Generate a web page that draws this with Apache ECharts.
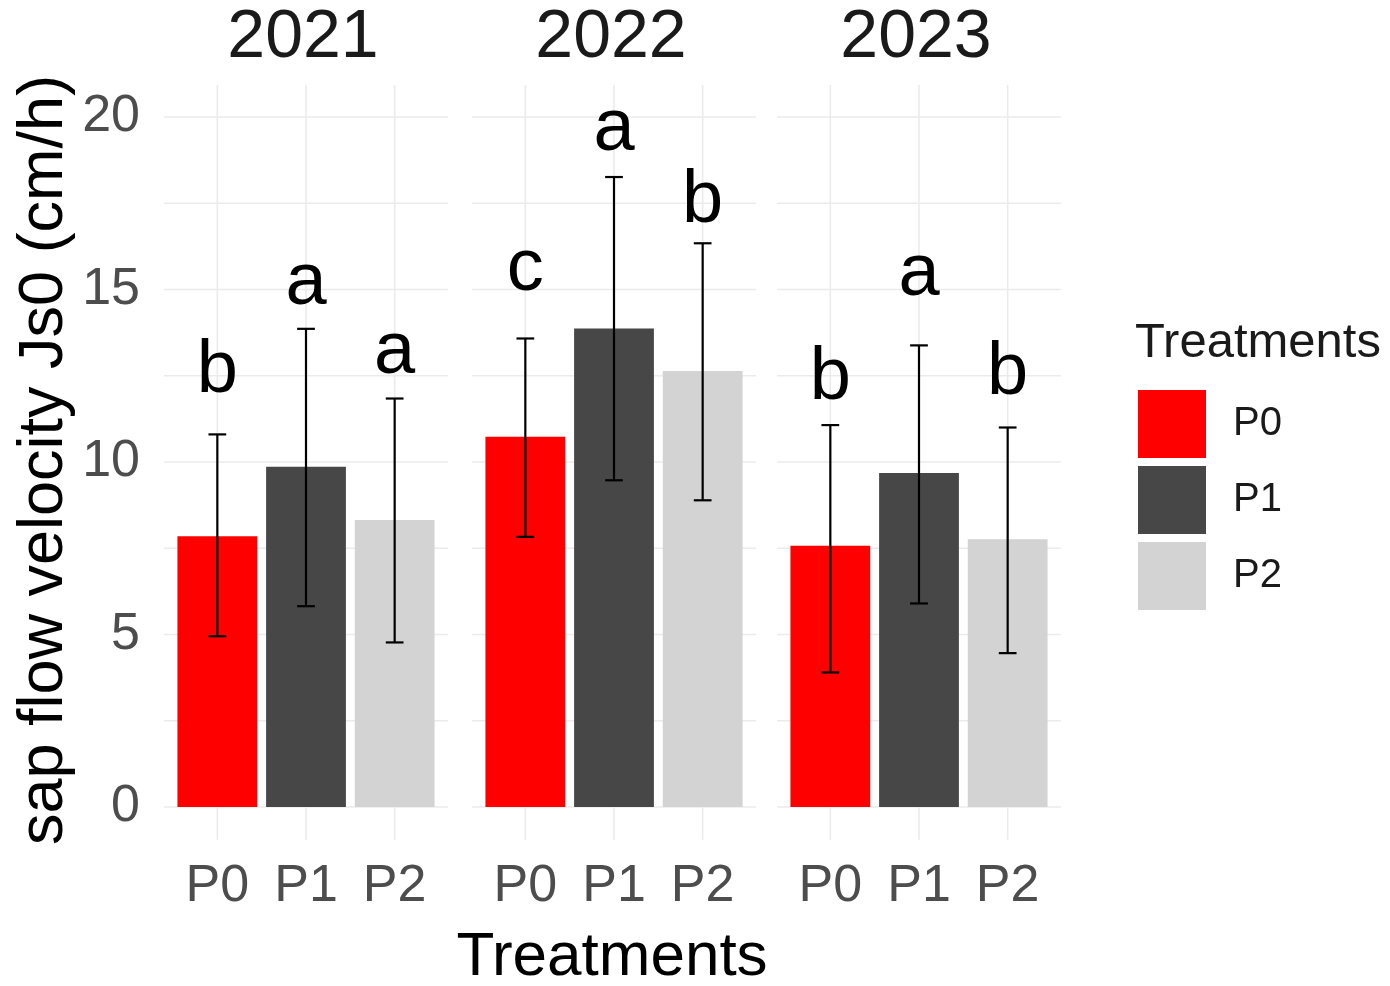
<!DOCTYPE html>
<html>
<head>
<meta charset="utf-8">
<script src="https://cdn.jsdelivr.net/npm/echarts@6/dist/echarts.min.js"></script>
<style>
  html, body { margin: 0; padding: 0; background: #fff; }
  #chart { width: 1390px; height: 986px; }
</style>
</head>
<body>
<div id="chart"></div>
<script>
// data
var years = ['2021', '2022', '2023'];
var treatments = ['P0', 'P1', 'P2'];
var means = [[7.85, 9.86, 8.32], [10.73, 13.87, 12.64], [7.57, 9.68, 7.76]];
var lower = [[4.95, 5.82, 4.77], [7.83, 9.47, 8.89], [3.90, 5.90, 4.46]];
var upper = [[10.80, 13.86, 11.84], [13.58, 18.26, 16.34], [11.07, 13.38, 11.00]];
var letters = [['b', 'a', 'a'], ['c', 'a', 'b'], ['b', 'a', 'b']];
var letterY = [[11.9, 14.45, 12.45], [14.87, 18.93, 16.83], [11.71, 14.73, 11.85]];
var yTicks = [0, 2.5, 5, 7.5, 10, 12.5, 15, 17.5, 20];

// layout / style
var colors = ['#FF0000', '#474747', '#D3D3D3'];
var FONT = "'Liberation Sans', Arial, sans-serif";
var gridLefts = [173, 481, 786];
var gridWidth = 266;
var gridTop = 117, gridBottom = 179;
var panelY = [-0.95, 20.93];
var gridColor = '#EBEBEB';

var chart = echarts.init(document.getElementById('chart'));

var grids = [], xAxes = [], yAxes = [], series = [], graphics = [];

years.forEach(function (yr, k) {
  grids.push({ left: gridLefts[k], width: gridWidth, top: gridTop, bottom: gridBottom });
  xAxes.push({
    type: 'category', gridIndex: k, data: treatments, boundaryGap: true,
    axisLine: { show: false }, axisTick: { show: false }, splitLine: { show: false },
    axisLabel: { color: '#4D4D4D', fontSize: 52, fontFamily: FONT, margin: 54 }
  });
  yAxes.push({
    type: 'value', gridIndex: k, min: 0, max: 20, interval: 2.5,
    axisLine: { show: false }, axisTick: { show: false }, splitLine: { show: false },
    axisLabel: {
      show: k === 0, color: '#4D4D4D', fontSize: 52, fontFamily: FONT, margin: 33,
      formatter: function (v) { return v % 5 === 0 ? String(v) : ''; }
    }
  });

  // panel gridlines (extend past the bands like ggplot's panel)
  series.push({
    type: 'custom', xAxisIndex: k, yAxisIndex: k, silent: true, clip: false, z: 0,
    data: yTicks.map(function (v) { return [1, v]; }),
    renderItem: function (params, api) {
      var band = api.size([1, 0])[0];
      var c0 = api.coord([0, api.value(1)]);
      var c2 = api.coord([2, api.value(1)]);
      return { type: 'line', shape: { x1: c0[0] - 0.6 * band, y1: c0[1], x2: c2[0] + 0.6 * band, y2: c2[1] },
        style: { stroke: gridColor, lineWidth: 1.6 } };
    }
  });
  series.push({
    type: 'custom', xAxisIndex: k, yAxisIndex: k, silent: true, clip: false, z: 0,
    data: treatments.map(function (t, i) { return [i, 0]; }),
    renderItem: function (params, api) {
      var a = api.coord([api.value(0), panelY[0]]);
      var b = api.coord([api.value(0), panelY[1]]);
      return { type: 'line', shape: { x1: a[0], y1: a[1], x2: b[0], y2: b[1] },
        style: { stroke: gridColor, lineWidth: 1.6 } };
    }
  });

  // bars: one series per treatment so the legend picks them up
  treatments.forEach(function (t, i) {
    series.push({
      name: t, type: 'bar', xAxisIndex: k, yAxisIndex: k, stack: 'p' + k,
      barWidth: '90%', z: 2,
      itemStyle: { color: colors[i] },
      data: treatments.map(function (tt, j) { return j === i ? means[k][j] : '-'; })
    });
  });

  // error bars
  series.push({
    type: 'custom', xAxisIndex: k, yAxisIndex: k, silent: true, clip: false, z: 3,
    encode: { x: 0, y: [1, 2] },
    data: treatments.map(function (t, i) { return [i, lower[k][i], upper[k][i]]; }),
    renderItem: function (params, api) {
      var hi = api.coord([api.value(0), api.value(2)]);
      var lo = api.coord([api.value(0), api.value(1)]);
      var half = api.size([1, 0])[0] * 0.1;
      var st = { stroke: '#000', lineWidth: 2.2 };
      return { type: 'group', children: [
        { type: 'line', shape: { x1: hi[0], y1: hi[1], x2: lo[0], y2: lo[1] }, style: st },
        { type: 'line', shape: { x1: hi[0] - half, y1: hi[1], x2: hi[0] + half, y2: hi[1] }, style: st },
        { type: 'line', shape: { x1: lo[0] - half, y1: lo[1], x2: lo[0] + half, y2: lo[1] }, style: st }
      ] };
    }
  });

  // significance letters
  series.push({
    type: 'custom', xAxisIndex: k, yAxisIndex: k, silent: true, clip: false, z: 4,
    data: treatments.map(function (t, i) { return [i, letterY[k][i]]; }),
    renderItem: function (params, api) {
      var p = api.coord([api.value(0), api.value(1)]);
      var fs = 74;
      return { type: 'text', x: p[0], y: p[1] - 0.33 * fs,
        style: { text: letters[k][params.dataIndex], fill: '#000', font: fs + 'px ' + FONT,
          align: 'center', verticalAlign: 'middle' } };
    }
  });

  // facet title
  graphics.push({
    type: 'text', x: gridLefts[k] + gridWidth / 2 - 3, y: 38,
    style: { text: yr, fill: '#1A1A1A', font: '68px ' + FONT, align: 'center', verticalAlign: 'middle' }
  });
});

graphics.push({
  type: 'text', x: 612, y: 958,
  style: { text: 'Treatments', fill: '#000', font: '62px ' + FONT, align: 'center', verticalAlign: 'middle' }
});
graphics.push({
  type: 'text', x: 45, y: 460, rotation: Math.PI / 2,
  style: { text: 'sap flow velocity Js0 (cm/h)', fill: '#000', font: '63px ' + FONT, align: 'center', verticalAlign: 'middle' }
});
graphics.push({
  type: 'text', x: 1135, y: 343,
  style: { text: 'Treatments', fill: '#1A1A1A', font: '49px ' + FONT, align: 'left', verticalAlign: 'middle' }
});

chart.setOption({
  animation: false,
  backgroundColor: '#fff',
  grid: grids,
  xAxis: xAxes,
  yAxis: yAxes,
  legend: {
    data: treatments, orient: 'vertical', left: 1133, top: 385,
    icon: 'rect', itemWidth: 68, itemHeight: 68, itemGap: 8,
    textStyle: { color: '#1A1A1A', fontSize: 40, fontFamily: FONT, padding: [0, 0, 0, 22] }
  },
  graphic: graphics,
  series: series
});
</script>
</body>
</html>
